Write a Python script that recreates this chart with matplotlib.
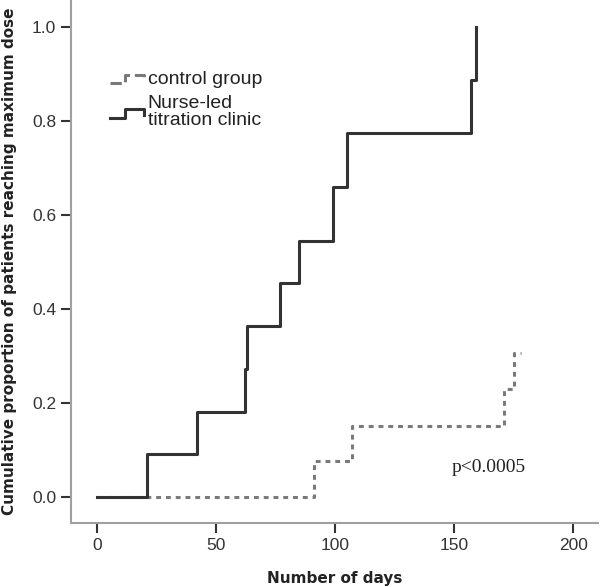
import matplotlib
matplotlib.use("Agg")
import matplotlib.pyplot as plt
from matplotlib.legend_handler import HandlerBase
from matplotlib.lines import Line2D

# Data (Kaplan-Meier style cumulative curves)
nurse_days = [0, 21, 42, 62, 63, 77, 85, 99, 105, 157, 159]
nurse_prop = [0.0, 0.091, 0.182, 0.273, 0.364, 0.455, 0.545, 0.66, 0.774, 0.887, 1.0]
ctrl_days = [0, 91, 107, 171, 175, 178]
ctrl_prop = [0.0, 0.076, 0.152, 0.229, 0.306, 0.306]

x_ticks = [0, 50, 100, 150, 200]
y_ticks = [0.0, 0.2, 0.4, 0.6, 0.8, 1.0]

solid_col = "#333333"
dash_col = "#7a7a7a"
axis_col = "#a0a0a0"


class StepHandler(HandlerBase):
    # legend glyph drawn as a small step, like the curves
    def create_artists(self, legend, orig, xd, yd, w, h, fontsize, trans):
        y0 = yd + 0.05 * h
        y1 = yd + 0.7 * h
        xs = [xd, xd + 0.45 * w, xd + 0.45 * w, xd + w, xd + w]
        ys = [y0, y0, y1, y1, y0 + 0.2 * h]
        ln = Line2D(xs, ys, color=orig.get_color(), lw=orig.get_linewidth(),
                    linestyle=orig.get_linestyle(), transform=trans)
        return [ln]


fig = plt.figure(figsize=(6, 5.87), dpi=100)
ax = fig.add_axes([0.118, 0.109, 0.879, 0.891])

l_ctrl, = ax.step(ctrl_days, ctrl_prop, where="post", color=dash_col, lw=2.2,
                  linestyle=(0, (1.6, 1.6)), label="control group")
l_nurse, = ax.step(nurse_days, nurse_prop, where="post", color=solid_col, lw=2.2,
                   label="Nurse-led\ntitration clinic")

ax.set_xlim(-11, 210.5)
ax.set_ylim(-0.055, 1.057)
ax.set_xticks(x_ticks)
ax.set_yticks(y_ticks)
ax.set_yticklabels([f"{v:.1f}" for v in y_ticks])

for s in ["top", "right"]:
    ax.spines[s].set_visible(False)
for s in ["left", "bottom"]:
    ax.spines[s].set_color(axis_col)
    ax.spines[s].set_linewidth(1.5)

ax.tick_params(axis="both", direction="out", length=7, width=1.5, color="#333333",
               labelsize=12.5, labelcolor="#333333")
for lab in ax.get_xticklabels() + ax.get_yticklabels():
    lab.set_fontfamily("Liberation Sans")

ax.set_xlabel("Number of days", fontsize=11, fontweight="bold", color="#222222",
              family="DejaVu Sans", labelpad=13)
ax.set_ylabel("Cumulative proportion of patients reaching maximum dose", fontsize=11,
              fontweight="bold", color="#222222", family="DejaVu Sans")
ax.yaxis.set_label_coords(-0.102, 0.5)

leg = ax.legend(handles=[l_ctrl, l_nurse], loc="upper left",
                bbox_to_anchor=(0.059, 0.88), frameon=False,
                prop={"family": "Liberation Sans", "size": 14},
                handler_map={Line2D: StepHandler()},
                handlelength=1.75, handletextpad=0.2, labelspacing=0.35,
                borderaxespad=0)
for t in leg.get_texts():
    t.set_color("#222222")
    t.set_linespacing(1.0)

ax.text(149, 0.064, "p<0.0005", fontsize=14, family="Liberation Serif",
        color="#222222", va="center", ha="left",
        bbox=dict(facecolor="white", edgecolor="none", pad=6))

plt.savefig("out.png", dpi=100)
